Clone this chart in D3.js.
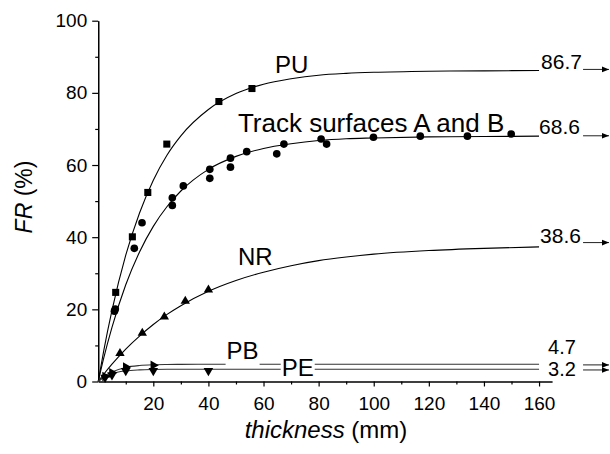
<!DOCTYPE html>
<html><head><meta charset="utf-8">
<script src="https://cdn.jsdelivr.net/npm/d3@7"></script>
<style>body{margin:0;background:#fff}svg{display:block}text{font-family:Arial,"Liberation Sans",sans-serif;fill:#000}</style>
</head><body><svg id="c" width="610" height="454"></svg>
<script>
// ---- data ----
const xTicks=[20,40,60,80,100,120,140,160];
const xMinorTicks=[10,30,50,70,90,110,130,150];
const yTicks=[0,20,40,60,80,100];
const yMinorTicks=[10,30,50,70,90];

const puX=[6.35,12.4,18.0,24.9,43.8,55.8];
const puY=[24.7,40.1,52.4,65.8,77.6,81.2];
const trackX=[5.9,6.2,13.1,15.9,26.9,26.9,30.9,40.5,40.5,48.0,48.0,53.9,64.8,67.4,80.9,82.9,99.9,116.9,134.0,149.9];
const trackY=[19.5,20.1,36.9,44.0,50.9,48.8,54.2,58.8,56.3,61.9,59.4,63.7,63.1,65.8,67.2,65.8,67.7,68.0,68.0,68.6];
const nrX=[7.9,16.0,24.0,31.6,40.0];
const nrY=[7.8,13.4,17.9,22.3,25.4];
const pbX=[2.5,5,10,20];
const pbY=[1.4,2.4,4.0,4.5];
const peX=[2.5,5,10,20,40];
const peY=[1.1,1.8,3.0,3.0,3.0];

const fitX=[0,2,5,10,15,20,25,30,40,50,60,70,80,90,100,120,140,160];
const puFit=[0,8.5,19.7,35.0,46.7,55.8,62.8,68.1,75.4,79.8,82.4,83.9,84.9,85.4,85.7,86.0,86.1,86.2];
const trackFit=[0,6.5,15.0,26.8,35.9,43.0,48.5,52.8,58.8,62.4,64.6,65.9,66.8,67.3,67.5,67.8,67.9,68.0];
const nrFit=[0,2.0,4.8,9.0,12.6,15.8,18.6,21.0,25.0,28.0,30.3,32.1,33.5,34.5,35.3,36.3,36.9,37.3];
const pbFit=[0,1.37,2.65,3.9,4.43,4.65,4.73,4.76,4.8,4.8,4.8,4.8,4.8,4.8,4.8,4.8,4.8,4.8];
const peFit=[0,1.12,2.15,2.94,3.23,3.34,3.38,3.4,3.4,3.4,3.4,3.4,3.4,3.4,3.4,3.4,3.4,3.4];

const seriesNames=["PU","Track surfaces A and B","NR","PB","PE"];
const asymptoteLabels=["86.7","68.6","38.6","4.7","3.2"];

// ---- layout ----
const W=610,H=454;
const x=d3.scaleLinear().domain([0,164.7]).range([98.2,552]);
const y=d3.scaleLinear().domain([0,100]).range([381.5,20.7]);
const nameLabelPos=[[64.2,85.5],[50.7,69.2],[50.7,32.3],[46.6,6.15],[66.6,1.6]];
const nameLabelSize=[24,26,24,24,24];
const valueLabelPos=[86.5,68.6,38.4,7.7,1.6];
const valueLabelSize=[21,21,21,20,20];
const valueLabelDx=[2,0,1,9,9];
const arrowLevels=[86.5,68.1,38.5,4.6,3.2];

const svg=d3.select("#c");
svg.append("rect").attr("width",W).attr("height",H).attr("fill","#fff");
const defs=svg.append("defs");
defs.append("marker").attr("id","ah").attr("viewBox","0 0 10 10").attr("refX",10).attr("refY",5)
  .attr("markerWidth",10).attr("markerHeight",7).attr("markerUnits","userSpaceOnUse").attr("orient","auto")
  .append("path").attr("d","M0,1L10,5L0,9Z").attr("fill","#000");

// axes
svg.append("g").attr("transform",`translate(0,${y(0)})`)
  .call(d3.axisBottom(x).tickValues(xTicks).tickSize(5).tickPadding(10).tickSizeOuter(0));
svg.append("g").attr("transform",`translate(0,${y(0)})`)
  .call(d3.axisBottom(x).tickValues(xMinorTicks).tickSize(3).tickFormat("").tickSizeOuter(0));
svg.append("g").attr("transform",`translate(${x(0)},0)`)
  .call(d3.axisLeft(y).tickValues(yTicks).tickSize(6).tickPadding(5).tickSizeOuter(0));
svg.append("g").attr("transform",`translate(${x(0)},0)`)
  .call(d3.axisLeft(y).tickValues(yMinorTicks).tickSize(3).tickFormat("").tickSizeOuter(0));
svg.selectAll(".domain, .tick line").attr("stroke","#000").attr("stroke-width",1.2);
svg.selectAll(".tick text").attr("font-size",19).attr("font-family","Arial, 'Liberation Sans', sans-serif").attr("fill","#000");

// axis titles
const xt=svg.append("text").attr("x",326).attr("y",438).attr("text-anchor","middle").attr("font-size",24);
xt.append("tspan").attr("font-style","italic").text("thickness");
xt.append("tspan").text(" (mm)");
const yt=svg.append("text").attr("transform","translate(32,197) rotate(-90)").attr("text-anchor","middle").attr("font-size",23);
yt.append("tspan").attr("font-style","italic").text("FR");
yt.append("tspan").text(" (%)");

// fit curves
const line=d3.line().x(d=>x(d[0])).y(d=>y(d[1])).curve(d3.curveMonotoneX);
[puFit,trackFit,nrFit,pbFit,peFit].forEach((f,i)=>{
  svg.append("path").datum(fitX.map((v,j)=>[v,f[j]])).attr("d",line)
    .attr("fill","none").attr("stroke",i>=3?"#333":"#000").attr("stroke-width",1.1);
});

// markers
function pts(xs,ys,type,size,rot){
  svg.append("g").selectAll("path").data(xs.map((v,i)=>[v,ys[i]])).join("path")
    .attr("d",d3.symbol().type(type).size(size))
    .attr("transform",d=>`translate(${x(d[0])},${y(d[1])}) rotate(${rot})`)
    .attr("fill","#000");
}
pts(puX,puY,d3.symbolSquare,50,0);
pts(trackX,trackY,d3.symbolCircle,46,0);
pts(nrX,nrY,d3.symbolTriangle,38,0);
pts(pbX,pbY,d3.symbolTriangle,40,90);
pts(peX,peY,d3.symbolTriangle,40,180);

// series name labels (white knock-out behind PB / PE)
seriesNames.forEach((n,i)=>{
  const t=svg.append("text").attr("x",x(nameLabelPos[i][0])).attr("y",y(nameLabelPos[i][1]))
    .attr("font-size",nameLabelSize[i]).text(n);
  if(i>=3){
    const b=t.node().getBBox();
    const bottom=i===3?y(nameLabelPos[i][1])+7:b.y+b.height;
    svg.insert("rect",()=>t.node()).attr("x",b.x-1).attr("y",b.y).attr("width",b.width+2)
      .attr("height",bottom-b.y).attr("fill","#fff");
  }
});

// value labels and arrows
asymptoteLabels.forEach((s,i)=>{
  svg.append("text").attr("x",x(160)+valueLabelDx[i]).attr("y",y(valueLabelPos[i])).attr("font-size",valueLabelSize[i]).text(s);
  svg.append("line").attr("x1",x(160)+44).attr("x2",W-1).attr("y1",y(arrowLevels[i])).attr("y2",y(arrowLevels[i]))
    .attr("stroke","#222").attr("stroke-width",1).attr("marker-end","url(#ah)");
});
</script></body></html>
